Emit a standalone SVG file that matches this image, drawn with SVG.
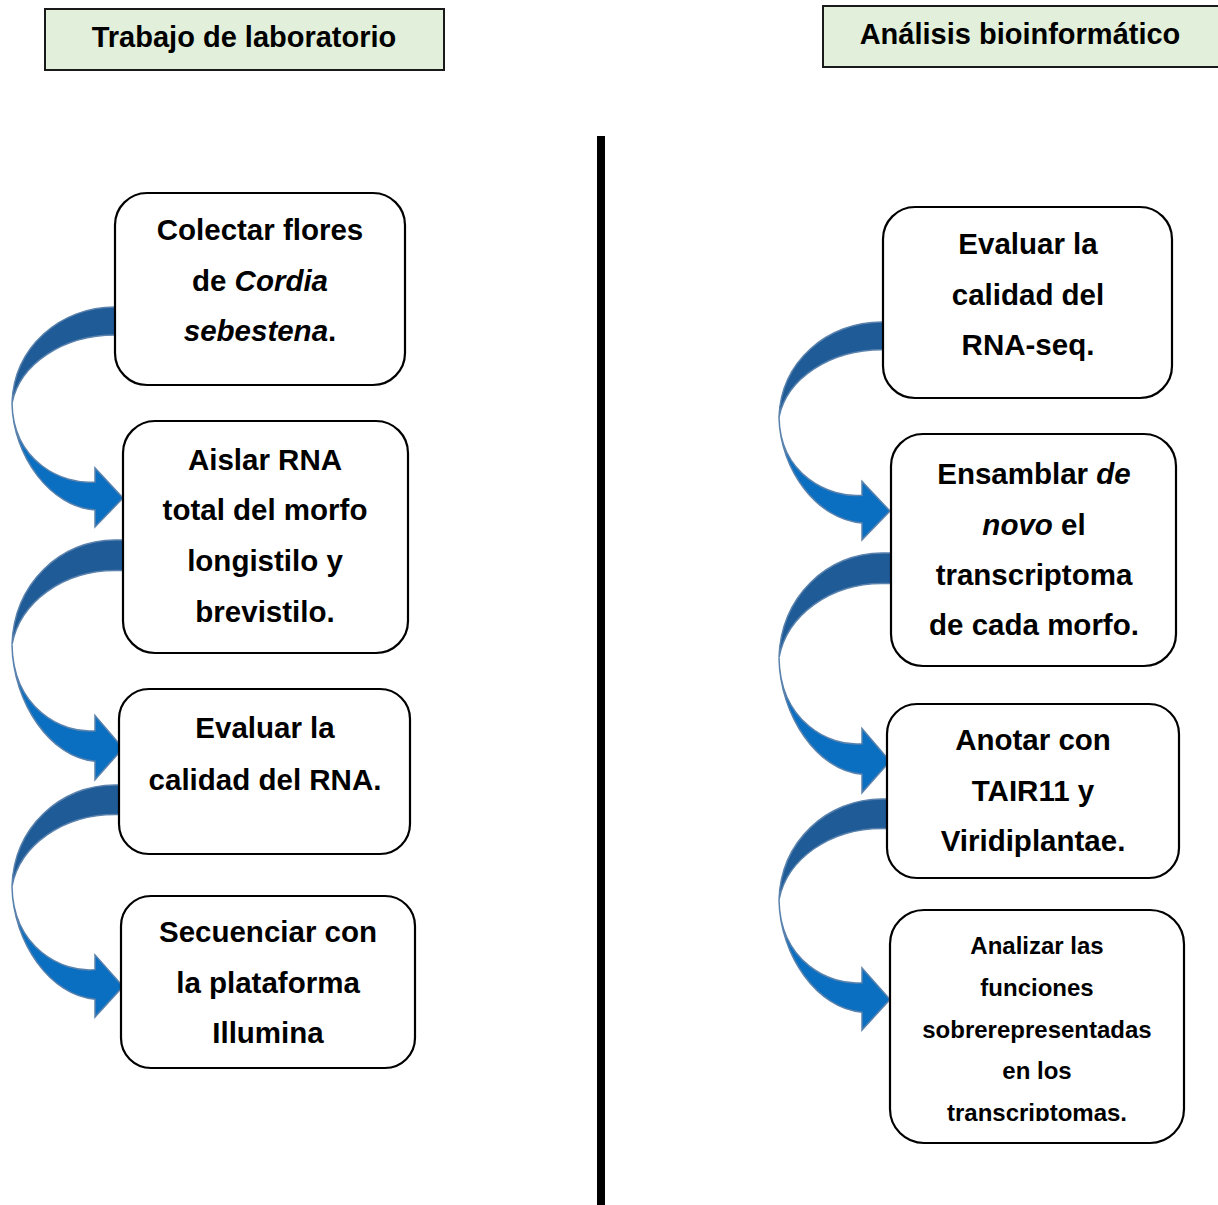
<svg xmlns="http://www.w3.org/2000/svg" xmlns:xlink="http://www.w3.org/1999/xlink" width="1218" height="1205" viewBox="0 0 1218 1205">
<style>
.hdr{fill:#e2efda;stroke:#1a1a1a;stroke-width:2}
.box{fill:#ffffff;stroke:#000000;stroke-width:2.2}
.t{font-family:"Liberation Sans",Arial,sans-serif;font-weight:bold;font-size:29.5px;fill:#000;text-anchor:middle}
.h{font-size:29px}
.s{font-size:24px}
.dark{fill:#1f5b97;stroke:#5a82ad;stroke-width:1.5}
.light{fill:#0a6fc0;stroke:#5a82ad;stroke-width:1.5}
</style>
<defs>
<g id="arr">
<path class="dark" vector-effect="non-scaling-stroke" d="M15,0 L0,0 C-55,0 -101,40 -103,96 C-95,57 -52,28 0,28 L15,28 Z"/>
<path class="light" vector-effect="non-scaling-stroke" d="M-103,96 C-102,150 -64,200 -20,203 L-20,220 L8,191 L-20,161 L-20,175 C-52,178 -102,155 -103,96 Z"/>
</g>
<clipPath id="clip4"><rect x="880" y="900" width="320" height="221"/></clipPath>
</defs>
<rect width="1218" height="1205" fill="#ffffff"/>
<g id="header-left">
<rect class="hdr" x="45" y="9" width="399" height="61"/>
<text class="t h" x="244" y="47">Trabajo de laboratorio</text>
</g>
<g id="header-right">
<rect class="hdr" x="823" y="6" width="400" height="61"/>
<text class="t h" x="1020" y="44">Análisis bioinformático</text>
</g>
<g id="divider">
<rect x="597" y="136" width="8" height="1069" fill="#000"/>
</g>
<g id="connectors">
<use xlink:href="#arr" transform="translate(115,307)"/>
<use xlink:href="#arr" transform="translate(115,540) scale(1,1.09)"/>
<use xlink:href="#arr" transform="translate(115,785) scale(1,1.055)"/>
<use xlink:href="#arr" transform="translate(882,322) scale(1,0.99)"/>
<use xlink:href="#arr" transform="translate(882,553) scale(1,1.09)"/>
<use xlink:href="#arr" transform="translate(882,799) scale(1,1.05)"/>
</g>
<g id="L1">
<rect class="box" x="115" y="193" width="290" height="192" rx="32"/>
<text class="t" x="260" y="240">Colectar flores</text>
<text class="t" x="260" y="291">de <tspan font-style="italic">Cordia</tspan></text>
<text class="t" x="260" y="341"><tspan font-style="italic">sebestena</tspan>.</text>
</g>
<g id="L2">
<rect class="box" x="123" y="421" width="285" height="232" rx="32"/>
<text class="t" x="265" y="470">Aislar RNA</text>
<text class="t" x="265" y="520">total del morfo</text>
<text class="t" x="265" y="571">longistilo y</text>
<text class="t" x="265" y="622">brevistilo.</text>
</g>
<g id="L3">
<rect class="box" x="119" y="689" width="291" height="165" rx="30"/>
<text class="t" x="265" y="738">Evaluar la</text>
<text class="t" x="265" y="790">calidad del RNA.</text>
</g>
<g id="L4">
<rect class="box" x="121" y="896" width="294" height="172" rx="30"/>
<text class="t" x="268" y="942">Secuenciar con</text>
<text class="t" x="268" y="993">la plataforma</text>
<text class="t" x="268" y="1043">Illumina</text>
</g>
<g id="R1">
<rect class="box" x="883" y="207" width="289" height="191" rx="32"/>
<text class="t" x="1028" y="254">Evaluar la</text>
<text class="t" x="1028" y="305">calidad del</text>
<text class="t" x="1028" y="355">RNA-seq.</text>
</g>
<g id="R2">
<rect class="box" x="891" y="434" width="285" height="232" rx="32"/>
<text class="t" x="1034" y="484">Ensamblar <tspan font-style="italic">de</tspan></text>
<text class="t" x="1034" y="535"><tspan font-style="italic">novo</tspan> el</text>
<text class="t" x="1034" y="585">transcriptoma</text>
<text class="t" x="1034" y="635">de cada morfo.</text>
</g>
<g id="R3">
<rect class="box" x="887" y="704" width="292" height="174" rx="30"/>
<text class="t" x="1033" y="750">Anotar con</text>
<text class="t" x="1033" y="801">TAIR11 y</text>
<text class="t" x="1033" y="851">Viridiplantae.</text>
</g>
<g id="R4">
<rect class="box" x="890" y="910" width="294" height="233" rx="34"/>
<g clip-path="url(#clip4)">
<text class="t s" x="1037" y="954">Analizar las</text>
<text class="t s" x="1037" y="996">funciones</text>
<text class="t s" x="1037" y="1038">sobrerepresentadas</text>
<text class="t s" x="1037" y="1079">en los</text>
<text class="t s" x="1037" y="1121">transcriptomas.</text>
</g>
</g>
</svg>
